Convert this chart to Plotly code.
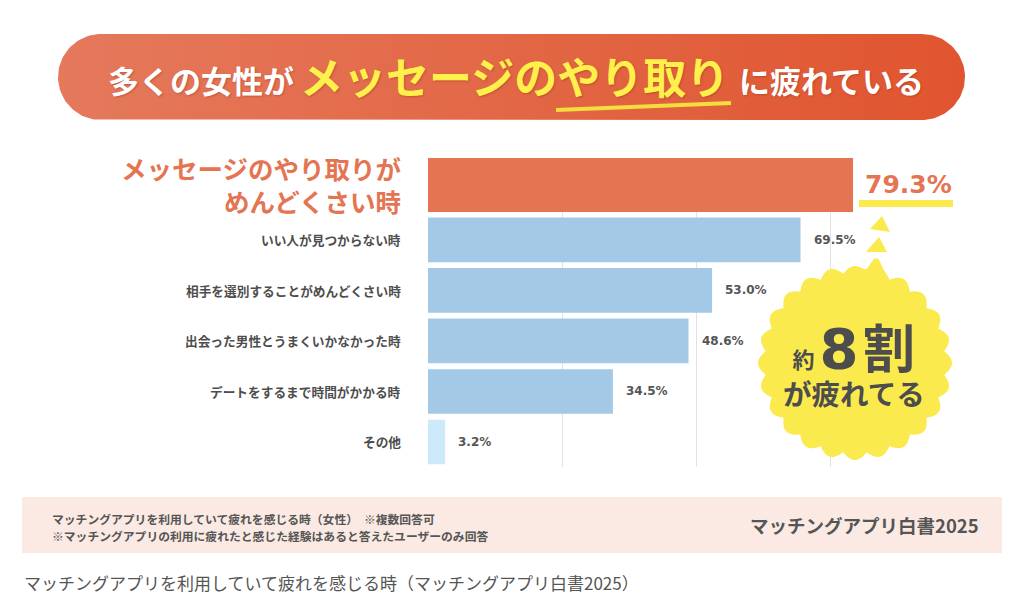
import numpy as np
import plotly.graph_objects as go

# ---------------- data ----------------
categories = [
    "メッセージのやり取りが\nめんどくさい時",
    "いい人が見つからない時",
    "相手を選別することがめんどくさい時",
    "出会った男性とうまくいかなかった時",
    "デートをするまで時間がかかる時",
    "その他",
]
values = [79.3, 69.5, 53.0, 48.6, 34.5, 3.2]
grid_ticks = [25, 50, 75]

title_left = "多くの女性が"
title_mid = "メッセージのやり取り"
title_right = "に疲れている"
burst_small = "約"
burst_big = "8"
burst_kanji = "割"
burst_line2 = "が疲れてる"
note_lines = [
    "マッチングアプリを利用していて疲れを感じる時（女性）　※複数回答可",
    "※マッチングアプリの利用に疲れたと感じた経験はあると答えたユーザーのみ回答",
]
source_title = "マッチングアプリ白書2025"
caption = "マッチングアプリを利用していて疲れを感じる時（マッチングアプリ白書2025）"

# ---------------- styles ----------------
W, H = 1024, 607
JP = "Noto Sans CJK JP"
ORANGE = "#E57552"
BLUE = "#A3C9E7"
LIGHT = "#CDE9FA"
YELLOW = "#FAEA4E"
DARK = "#4d4d4d"
GREY = "#555555"
bar_colors = [ORANGE, BLUE, BLUE, BLUE, BLUE, LIGHT]
bar_widths = [1.069, 0.883, 0.883, 0.883, 0.883, 0.883]
bar_offsets = [-0.62, -0.4415, -0.4415, -0.4415, -0.4415, -0.4415]

cat_keys = [c.replace("\n", "") for c in categories]

X_LEFT, X_RIGHT = 428, 964
Y_TOP, Y_BOT = 158, 467.25

fig = go.Figure()

# ---------------- bars ----------------
fig.add_trace(go.Bar(
    x=values, y=cat_keys, orientation="h",
    marker=dict(color=bar_colors, line=dict(width=0)),
    width=bar_widths, offset=bar_offsets,
    hoverinfo="skip", xaxis="x", yaxis="y",
))

# ---------------- banner (gradient) ----------------
bl, br, bt, bb = 58, 965, 34, 120
r = (bb - bt) / 2
cyb = (bt + bb) / 2
t1 = np.linspace(-np.pi / 2, np.pi / 2, 60)
t2 = np.linspace(np.pi / 2, 3 * np.pi / 2, 60)
bx = np.concatenate([br - r + r * np.cos(t1), bl + r + r * np.cos(t2)])
by = np.concatenate([cyb + r * np.sin(t1), cyb + r * np.sin(t2)])
bx = np.append(bx, bx[0]); by = np.append(by, by[0])
fig.add_trace(go.Scatter(
    x=bx, y=by, xaxis="x2", yaxis="y2", mode="lines",
    line=dict(width=0, color="#E36A48"), fill="toself",
    fillgradient=dict(type="horizontal",
                      colorscale=[[0, "#E5795C"], [1, "#E0552F"]]),
    hoverinfo="skip",
))

def path(pts):
    s = "M " + " L ".join(f"{x:.2f},{y:.2f}" for x, y in pts)
    return s + " Z"

shapes = []
# footer box
shapes.append(dict(type="rect", xref="x2", yref="y2", x0=22, x1=1002, y0=497, y1=553,
                   fillcolor="#FBEAE4", line=dict(width=0), layer="below"))
# title squiggle underline
shapes.append(dict(type="line", xref="x2", yref="y2", x0=556, y0=110, x1=731, y1=103,
                   line=dict(color="#F4DD3E", width=4), layer="above"))
# underline under 79.3%
shapes.append(dict(type="rect", xref="x2", yref="y2", x0=859, x1=953, y0=200, y1=207,
                   fillcolor=YELLOW, line=dict(width=0), layer="above"))
# triangles
shapes.append(dict(type="path", xref="x2", yref="y2",
                   path=path([(870, 229), (882, 216), (890, 232)]),
                   fillcolor=YELLOW, line=dict(width=0), layer="above"))
shapes.append(dict(type="path", xref="x2", yref="y2",
                   path=path([(866, 252), (879, 237), (887, 252)]),
                   fillcolor=YELLOW, line=dict(width=0), layer="above"))
# burst
cx, cy = 855, 363
tt = np.linspace(0, 2 * np.pi, 900, endpoint=False)
rr = 90 + 7 * np.abs(np.cos(24 * tt / 2))
ts = np.arctan2(256 - cy, 876 - cx) % (2 * np.pi)
d = np.angle(np.exp(1j * (tt - ts)))
rr = rr + 12 * np.exp(-(d / 0.07) ** 2)
pts = list(zip(cx + rr * np.cos(tt), cy + rr * np.sin(tt)))
shapes.append(dict(type="path", xref="x2", yref="y2", path=path(pts),
                   fillcolor=YELLOW, line=dict(width=0), layer="above"))

ann = []
def txt(x, y, text, size, color, xanchor="center", weight="bold", family=JP, **kw):
    ann.append(dict(xref="x2", yref="y2", x=x, y=y, text=text, showarrow=False,
                    xanchor=xanchor, yanchor="middle",
                    font=dict(family=family, size=size, color=color, weight=weight), **kw))

# title
shadow = "1px 1px 2px rgba(120,40,20,0.35)"
ann.append(dict(xref="x2", yref="y2", x=296, y=79, text=title_left, showarrow=False,
                xanchor="right", yanchor="middle",
                font=dict(family=JP, size=31, color="white", weight="bold", shadow=shadow)))
ann.append(dict(xref="x2", yref="y2", x=514, y=75, text=title_mid, showarrow=False,
                xanchor="center", yanchor="middle",
                font=dict(family=JP, size=43, color="#FFF04C", weight="bold", shadow=shadow)))
ann.append(dict(xref="x2", yref="y2", x=737, y=79, text=title_right, showarrow=False,
                xanchor="left", yanchor="middle",
                font=dict(family=JP, size=31, color="white", weight="bold", shadow=shadow)))

# category labels
for i, c in enumerate(categories):
    if i == 0:
        ann.append(dict(xref="x", yref="y", x=0, y=cat_keys[i], text=c.replace("\n", "<br>"),
                        showarrow=False, align="right",
                        xanchor="right", yanchor="middle", xshift=-25, yshift=5,
                        font=dict(family=JP, size=25.5, color=ORANGE, weight="bold")))
    else:
        ann.append(dict(xref="x", yref="y", x=0, y=cat_keys[i], text=c, showarrow=False,
                        xanchor="right", yanchor="middle", xshift=-25,
                        font=dict(family=JP, size=12.7, color=DARK, weight="bold")))

# value labels
for i, v in enumerate(values):
    if i == 0:
        ann.append(dict(xref="x", yref="y", x=v, y=cat_keys[i], text=f"{v:.1f}%", showarrow=False,
                        xanchor="left", yanchor="middle", xshift=10, yshift=4.5,
                        font=dict(family="DejaVu Sans", size=25, color=ORANGE, weight="bold")))
    else:
        ann.append(dict(xref="x", yref="y", x=v, y=cat_keys[i], text=f"{v:.1f}%", showarrow=False,
                        xanchor="left", yanchor="middle", xshift=11,
                        font=dict(family="DejaVu Sans", size=12, color=GREY, weight="bold")))

# burst text (single two-line annotation)
burst_text = (
    f'<span style="font-size:22px">{burst_small} </span>'
    f'<span style="font-family:DejaVu Sans;font-size:56px">{burst_big}</span>'
    f'<span style="font-size:20px"> </span>'
    f'<span style="font-size:52px">{burst_kanji}</span>'
    f'<br>{burst_line2}'
)
txt(854, 360, burst_text, 28.5, DARK, align="center")

# footer
txt(50, 518, note_lines[0], 11.8, GREY, xanchor="left")
txt(50, 535, note_lines[1], 11.8, GREY, xanchor="left")
txt(981, 525, source_title, 18.5, GREY, xanchor="right")
txt(22, 582, caption, 17, GREY, xanchor="left", weight="normal")

fig.update_layout(
    width=W, height=H,
    margin=dict(l=0, r=0, t=0, b=0, pad=0),
    paper_bgcolor="white", plot_bgcolor="rgba(0,0,0,0)",
    showlegend=False,
    xaxis=dict(domain=[X_LEFT / W, X_RIGHT / W], range=[0, 100], tickvals=grid_ticks,
               showticklabels=False, showgrid=True, gridcolor="#e2e2e2", gridwidth=1,
               zeroline=False, showline=False, ticks="", fixedrange=True, anchor="y"),
    yaxis=dict(domain=[1 - Y_BOT / H, 1 - Y_TOP / H], type="category",
               categoryorder="array", categoryarray=cat_keys, range=[5.5, -0.62],
               showticklabels=False, showgrid=False, zeroline=False, showline=False,
               ticks="", fixedrange=True, anchor="x"),
    xaxis2=dict(domain=[0, 1], range=[0, W], visible=False, fixedrange=True, anchor="y2"),
    yaxis2=dict(domain=[0, 1], range=[H, 0], visible=False, fixedrange=True, anchor="x2"),
    shapes=shapes, annotations=ann,
    hovermode=False,
)

fig.write_html("out.html", config={"displayModeBar": False},
               post_script="document.body.style.margin='0';document.body.style.overflow='hidden';")
